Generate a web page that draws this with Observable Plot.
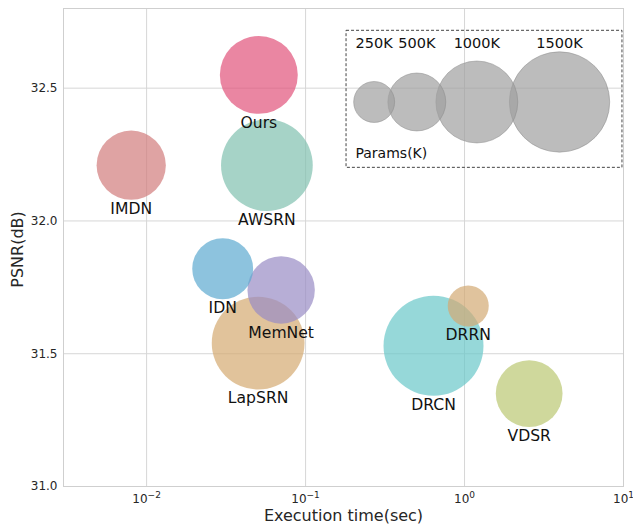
<!DOCTYPE html>
<html><head><meta charset="utf-8">
<script src="https://cdn.jsdelivr.net/npm/d3@7"></script>
<script src="https://cdn.jsdelivr.net/npm/@observablehq/plot@0.6"></script>
<style>
body{margin:0;background:#fff;}
#chart svg{font-family:"DejaVu Sans",sans-serif;}
</style>
</head><body><div id="chart"></div>
<script>
// ---- data ----
const models   = ["IMDN","AWSRN","IDN","MemNet","LapSRN","DRCN","DRRN","VDSR","Ours"];
const execTime = [0.0080, 0.0571, 0.0301, 0.0702, 0.0503, 0.638, 1.055, 2.55, 0.0508];
const psnr     = [32.21, 32.21, 31.82, 31.74, 31.54, 31.53, 31.68, 31.35, 32.55];
const params   = [715, 1254, 553, 677, 1284, 1490, 251, 665, 905];
const colors   = ["#d17c7c","#80c0af","#5ca9d0","#988bc4","#d4aa70","#69c7c9","#d3aa73","#bac772","#e1527a"];

const legendSizes  = [250, 500, 1000, 1500];
const legendLabels = ["250K", "500K", "1000K", "1500K"];
const legendTitle  = "Params(K)";

const xTicks = [0.01, 0.1, 1, 10];
const yTicks = [31.0, 31.5, 32.0, 32.5];
const xLabel = "Execution time(sec)";
const yLabel = "PSNR(dB)";

// ---- layout (data-space anchors for the in-plot legend) ----
const legendLayout = {
  x: [0.270, 0.501, 1.195, 3.96],
  y: 32.448, labelY: 32.669,
  titleX: 0.206, titleY: 32.254,
  box: {x1: 0.181, x2: 9.85, y1: 32.2, y2: 32.716}
};

const W = 633, H = 525, mL = 63, mR = 10, mT = 8, mB = 39;

const table = models.map((m, i) => ({model: m, time: execTime[i], psnr: psnr[i], params: params[i], color: colors[i]}));
const legendTable = legendSizes.map((s, i) => ({size: s, label: legendLabels[i], x: legendLayout.x[i]}));

const rOpts = {type: "sqrt", domain: [0, 1500], range: [0, 50.15]};
const rScale = Plot.scale({r: rOpts});

const alpha = 0.7;

// x tick labels as 10 with a raised exponent (like mathtext)
const baseFs = 12, expFs = 9;
const tickLabelMarks = xTicks.flatMap(v => {
  const e = String(Math.round(Math.log10(v))).replace("-", "\u2212");
  const bw = 2 * 0.636 * baseFs;
  const ew = [...e].reduce((s, c) => s + (c === "\u2212" ? 0.838 : 0.636), 0) * expFs;
  const start = -(bw + ew) / 2;
  return [
    Plot.text([v], {x: d => d, frameAnchor: "bottom", lineAnchor: "middle", textAnchor: "start",
      dx: start, dy: 12.3, text: () => "10", fontSize: baseFs, fill: "#262626"}),
    Plot.text([v], {x: d => d, frameAnchor: "bottom", lineAnchor: "middle", textAnchor: "start",
      dx: start + bw, dy: 8.6, text: () => e, fontSize: expFs, fill: "#262626"})
  ];
});

const frameCx = mL + (W - mL - mR) / 2;

const marks = [
  Plot.gridX(xTicks, {stroke: "#d6d6d6", strokeOpacity: 1}),
  Plot.gridY(yTicks, {stroke: "#d6d6d6", strokeOpacity: 1}),
  Plot.frame({stroke: "#cfcfcf"}),
  Plot.axisY(yTicks, {tickSize: 0, tickPadding: 6, tickFormat: d => d.toFixed(1), fontSize: 12, fill: "#262626", label: null}),
  ...tickLabelMarks,
  Plot.dot(table, {x: "time", y: "psnr", r: "params", fill: "color", fillOpacity: alpha, stroke: "none"}),
  ...table.map(d => Plot.text([d], {x: "time", y: "psnr", text: "model", dy: rScale.apply(d.params) + 9, fontSize: 15.6, fill: "#111"})),
  // legend
  Plot.rect([legendLayout.box], {x1: "x1", x2: "x2", y1: "y1", y2: "y2", fill: "none", stroke: "#444", strokeDasharray: "3,2", strokeWidth: 1}),
  Plot.dot(legendTable, {x: "x", y: () => legendLayout.y, r: "size", fill: "#a0a0a0", fillOpacity: alpha, stroke: "#8a8a8a", strokeOpacity: 0.5, strokeWidth: 1}),
  Plot.text(legendTable, {x: "x", y: () => legendLayout.labelY, text: "label", fontSize: 14.5, fill: "#111"}),
  Plot.text([legendTitle], {x: () => legendLayout.titleX, y: () => legendLayout.titleY, text: d => d, textAnchor: "start", fontSize: 14, fill: "#111"}),
  // axis titles
  Plot.text([xLabel], {frameAnchor: "bottom", lineAnchor: "middle", textAnchor: "middle", dy: 29.5, text: d => d, fontSize: 16, fill: "#262626"}),
  Plot.text([yLabel], {frameAnchor: "middle", lineAnchor: "middle", textAnchor: "middle", dx: 17.5 - frameCx, dy: 2, rotate: -90, text: d => d, fontSize: 16, fill: "#262626"})
];

const chart = Plot.plot({
  width: W, height: H,
  marginLeft: mL, marginRight: mR, marginTop: mT, marginBottom: mB,
  x: {type: "log", domain: [0.003, 10], axis: null},
  y: {domain: [31, 32.8]},
  r: rOpts,
  style: {fontFamily: "DejaVu Sans", background: "#fff", overflow: "visible"},
  marks
});
document.getElementById("chart").appendChild(chart);
</script>
</body></html>
